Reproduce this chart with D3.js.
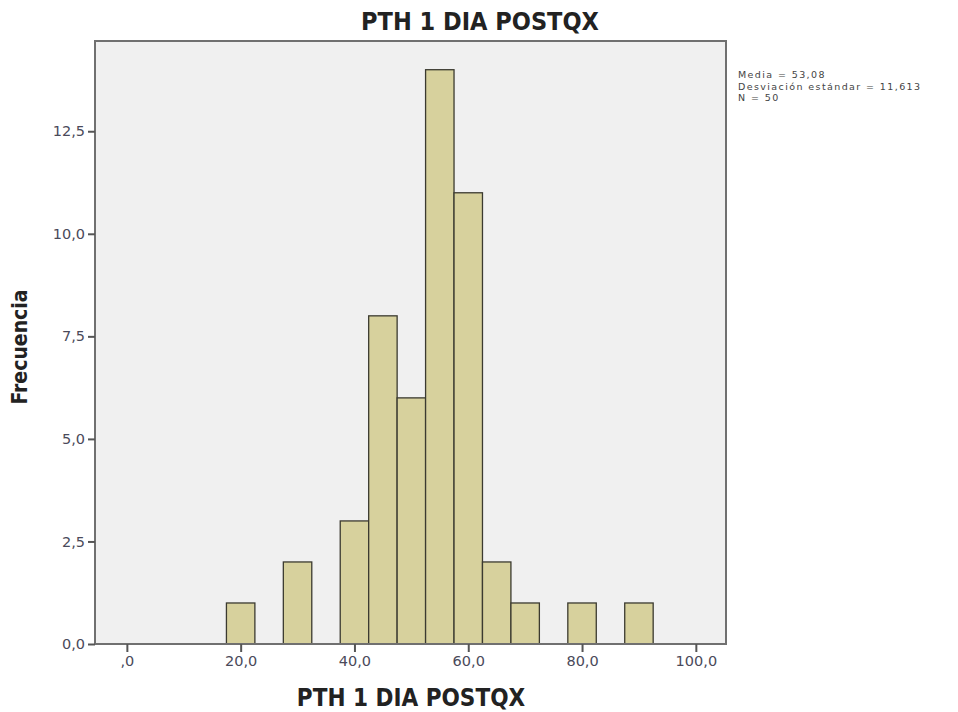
<!DOCTYPE html>
<html lang="es">
<head>
<meta charset="UTF-8">
<title>PTH 1 DIA POSTQX</title>
<style>
    body { margin: 0; background: #fff; }
    svg { display: block; }
    .tick text { font-family: "DejaVu Sans", sans-serif; font-size: 14.5px; fill: #4a4a5a; }
    .title { font-family: "DejaVu Sans Condensed", "DejaVu Sans", sans-serif; font-weight: bold; fill: #222; }
    .stats { font-family: "DejaVu Sans", sans-serif; font-size: 9.5px; letter-spacing: 1.4px; fill: #444; }
</style>
</head>
<body>
<svg id="chart" width="958" height="712"></svg>
<script src="https://d3js.org/d3.v7.min.js"></script>
<script>
// histogram bins (width 5) and counts
const binStart = [17.5, 27.5, 37.5, 42.5, 47.5, 52.5, 57.5, 62.5, 67.5, 77.5, 87.5];
const counts   = [1, 2, 3, 8, 6, 14, 11, 2, 1, 1, 1];
const binWidth = 5;
const xTicks = [0, 20, 40, 60, 80, 100];
const yTicks = [0, 2.5, 5, 7.5, 10, 12.5];
const statsLines = ["Media = 53,08", "Desviación estándar = 11,613", "N = 50"];

const bins = binStart.map((s, i) => ({x0: s, x1: s + binWidth, n: counts[i]}));

const svg = d3.select("#chart");
const plot = {left: 95, right: 726, top: 41, bottom: 644};

const x = d3.scaleLinear().domain([-5.6, 105.3]).range([plot.left, plot.right]);
const y = d3.scaleLinear().domain([0, 14.7]).range([plot.bottom, plot.top]);

// spss style: comma decimal, ",0" for zero on x
const fmtX = d => d === 0 ? ",0" : d3.format(".1f")(d).replace(".", ",");
const fmtY = d => d3.format(".1f")(d).replace(".", ",");

// plot background
svg.append("rect")
    .attr("x", plot.left).attr("y", plot.top)
    .attr("width", plot.right - plot.left).attr("height", plot.bottom - plot.top)
    .attr("fill", "#f0f0f0");

// bars
svg.append("g").selectAll("rect")
    .data(bins)
    .enter().append("rect")
    .attr("x", d => x(d.x0))
    .attr("y", d => y(d.n))
    .attr("width", d => x(d.x1) - x(d.x0))
    .attr("height", d => y(0) - y(d.n))
    .attr("fill", "#d7d19d")
    .attr("stroke", "#3b3a30")
    .attr("stroke-width", 1.3);

// frame
svg.append("rect")
    .attr("x", plot.left).attr("y", plot.top)
    .attr("width", plot.right - plot.left).attr("height", plot.bottom - plot.top)
    .attr("fill", "none")
    .attr("stroke", "#707070")
    .attr("stroke-width", 2);

// axes
const xAxis = svg.append("g")
    .attr("transform", `translate(0,${plot.bottom})`)
    .call(d3.axisBottom(x).tickValues(xTicks).tickFormat(fmtX).tickSize(8).tickSizeOuter(0).tickPadding(4));
xAxis.select(".domain").remove();
xAxis.selectAll(".tick line").attr("stroke", "#555").attr("stroke-width", 2);

const yAxis = svg.append("g")
    .attr("transform", `translate(${plot.left},0)`)
    .call(d3.axisLeft(y).tickValues(yTicks).tickFormat(fmtY).tickSize(7).tickSizeOuter(0).tickPadding(3));
yAxis.select(".domain").remove();
yAxis.selectAll(".tick line").attr("stroke", "#555").attr("stroke-width", 2);

// titles
svg.append("text").attr("class", "title")
    .attr("x", 480).attr("y", 30)
    .attr("text-anchor", "middle")
    .attr("font-size", 25)
    .text("PTH 1 DIA POSTQX");

svg.append("text").attr("class", "title")
    .attr("x", 411).attr("y", 706)
    .attr("text-anchor", "middle")
    .attr("font-size", 24)
    .text("PTH 1 DIA POSTQX");

svg.append("text").attr("class", "title")
    .attr("transform", "translate(27,347) rotate(-90)")
    .attr("text-anchor", "middle")
    .attr("font-size", 21)
    .text("Frecuencia");

// stats box
svg.append("g").selectAll("text")
    .data(statsLines)
    .enter().append("text")
    .attr("class", "stats")
    .attr("x", 738)
    .attr("y", (d, i) => 78 + i * 11.5)
    .text(d => d);
</script>
</body>
</html>
